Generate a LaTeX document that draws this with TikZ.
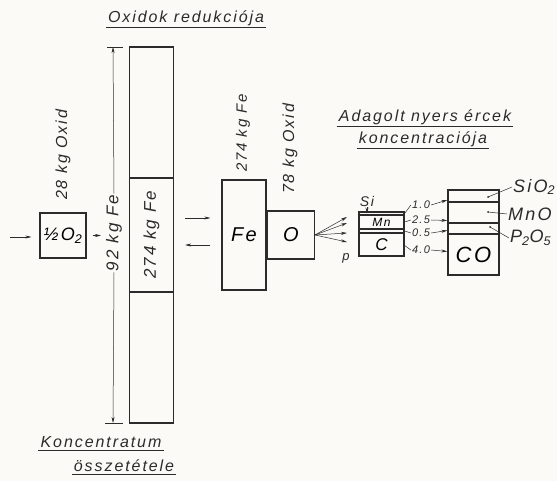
\documentclass[tikz,border=0pt]{standalone}
\usepackage{fontspec}
\setmainfont{Liberation Sans}
\usetikzlibrary{arrows.meta}
\definecolor{InkLine}{HTML}{2B2B2B}
\definecolor{PaperBg}{HTML}{FBFAF6}
\newcommand{\handfont}[1]{\fontsize{#1}{#1}\selectfont\itshape\addfontfeature{LetterSpace=12}}

\tikzset{
  hand/.style={font=\handfont{16}, text=InkLine, inner sep=1pt},
  ttl/.style={font=\handfont{16}, text=InkLine, inner sep=2pt},
  blk/.style={draw=InkLine, line width=1.3pt, inner sep=0pt},
  arr/.style={-{Stealth[length=6pt,width=3pt]}, draw=InkLine, line width=0.5pt},
  lead/.style={draw=InkLine, line width=0.5pt},
}

\begin{document}
\begin{tikzpicture}[x=1pt,y=-1pt]
  \fill[PaperBg] (0,0) rectangle (557,481);
  \useasboundingbox (0,0) rectangle (557,481);

  \node[ttl] (ttlRed) at (186,18) {Oxidok redukciója};
  \node[ttl] (ttlOre1) at (425,117) {Adagolt nyers ércek};
  \node[ttl] (ttlOre2) at (423,139) {koncentraciója};
  \node[ttl] (ttlKon1) at (101,442) {Koncentratum};
  \node[ttl] (ttlKon2) at (124,466) {összetétele};
  \foreach \t in {ttlRed,ttlOre1,ttlOre2,ttlKon1,ttlKon2}
    \draw[lead] (\t.south west) -- (\t.south east);

  % concentrate column
  \node[blk, minimum width=44pt, minimum height=131pt] (colTop) at (151.5,112.5) {};
  \node[blk, minimum width=44pt, minimum height=114pt] (colMid) at (151.5,235) {};
  \node[blk, minimum width=44pt, minimum height=131pt] (colBot) at (151.5,357.5) {};
  \node[hand, rotate=90, font=\handfont{17}] (feMid) at (colMid) {274 kg Fe};

  \coordinate (dimTop) at (113,47);
  \coordinate (dimBot) at (113,423);
  \node[hand, rotate=90, font=\handfont{17}] (dimLbl) at (114,233) {92 kg Fe};
  \draw[arr] (dimLbl.east) -- (dimTop);
  \draw[arr] (dimLbl.west) -- (dimBot);
  \draw[lead] ([xshift=-6pt]dimTop) -- ([xshift=10pt]dimTop);
  \draw[lead] ([xshift=-8pt]dimBot) -- ([xshift=10pt]dimBot);

  % oxygen
  \node[blk, minimum width=46pt, minimum height=45pt, font=\handfont{18}] (oxy) at (63,235.5) {½O\textsubscript{2}};
  \node[hand] (oxLbl) [rotate=90] at (63,155) {28 kg Oxid};
  \coordinate (feed) at (10,237);
  \coordinate (oxyOut) at (101,235.5);
  \draw[arr, shorten >=8pt] (feed) -- (feed -| oxy.west);
  \draw[arr, shorten <=6pt] (oxy.east) -- (oxyOut);

  % Fe and O
  \node[blk, minimum width=44pt, minimum height=110pt, font=\handfont{20}] (feBox) at (244,235) {Fe};
  \node[blk, minimum width=47pt, minimum height=48pt, anchor=west, font=\handfont{20}] (oBox) at (feBox.east) {O};
  \node[hand, rotate=90, font=\handfont{15}] (feLbl) at (243,133) {274 kg Fe};
  \node[hand, rotate=90] (oLbl) at (290,149) {78 kg Oxid};
  \draw[arr, shorten <=11pt, shorten >=11pt] ([yshift=17pt]colMid.east) -- ([yshift=17pt]feBox.west);
  \draw[arr, shorten <=11pt, shorten >=11pt] ([yshift=-10pt]feBox.west) -- ([yshift=-10pt]colMid.east);

  \foreach \y [count=\i] in {217,223,233,242} {
    \coordinate (fan\i) at (347,\y);
    \draw[arr] (oBox.east) -- (fan\i);
  }
  \node[hand, font=\handfont{13}] (pLbl) at (346,258) {p};

  % raw ore
  \node[blk, minimum width=45pt, minimum height=3pt] (oreSi) at (381.5,213.5) {};
  \node[blk, minimum width=45pt, minimum height=14pt, font=\handfont{12}] (oreMn) at (381.5,222) {Mn};
  \node[blk, minimum width=45pt, minimum height=4pt] (oreP) at (381.5,231) {};
  \node[blk, minimum width=45pt, minimum height=23pt, font=\handfont{17}] (oreC) at (381.5,244.5) {C};
  \node[hand, font=\handfont{14}] (siLbl) at (367,201) {Si};
  \draw[arr] (siLbl.south) -- (siLbl.south |- oreSi.center);

  \node[hand, font=\handfont{11}] (n1) at (421,205) {1.0};
  \node[hand, font=\handfont{11}] (n2) at (421,220) {2.5};
  \node[hand, font=\handfont{11}] (n3) at (421,233) {0.5};
  \node[hand, font=\handfont{11}] (n4) at (421,250) {4.0};
  \draw[lead] (oreSi.east) -- (n1.west);
  \draw[lead] (oreMn.east) -- (n2.west);
  \draw[lead] (oreP.east) -- (n3.west);
  \draw[lead] ([yshift=-1pt]oreC.east) -- (n4.west);

  % slag / gas
  \node[blk, minimum width=51pt, minimum height=12pt] (coSi) at (473.5,196) {};
  \node[blk, minimum width=51pt, minimum height=21pt] (coMn) at (473.5,212.5) {};
  \node[blk, minimum width=51pt, minimum height=11pt] (coP) at (473.5,228.5) {};
  \node[blk, minimum width=51pt, minimum height=41pt, font=\handfont{22}] (coC) at (473.5,254.5) {CO};
  \draw[arr] (n1.east) -- ([yshift=-4pt]coSi.west);
  \draw[arr] (n2.east) -- ([yshift=-8pt]coMn.west);
  \draw[arr] (n3.east) -- ([yshift=-2pt]coP.west);
  \draw[arr] (n4.east) -- ([yshift=3pt]coC.west);

  \coordinate (dSi) at (488,197);
  \coordinate (dMn) at (488,212);
  \coordinate (dP) at (490,227);
  \node[hand, font=\handfont{18}, anchor=west] (lSi) at (512,187) {SiO\textsubscript{2}};
  \node[hand, font=\handfont{18}, anchor=west] (lMn) at (507,214) {MnO};
  \node[hand, font=\handfont{18}, anchor=west] (lP) at (509,238) {P\textsubscript{2}O\textsubscript{5}};
  \foreach \d/\l in {dSi/lSi,dMn/lMn,dP/lP} {
    \fill[InkLine] (\d) circle (1pt);
    \draw[lead] (\d) -- (\l.west);
  }
\end{tikzpicture}
\end{document}
